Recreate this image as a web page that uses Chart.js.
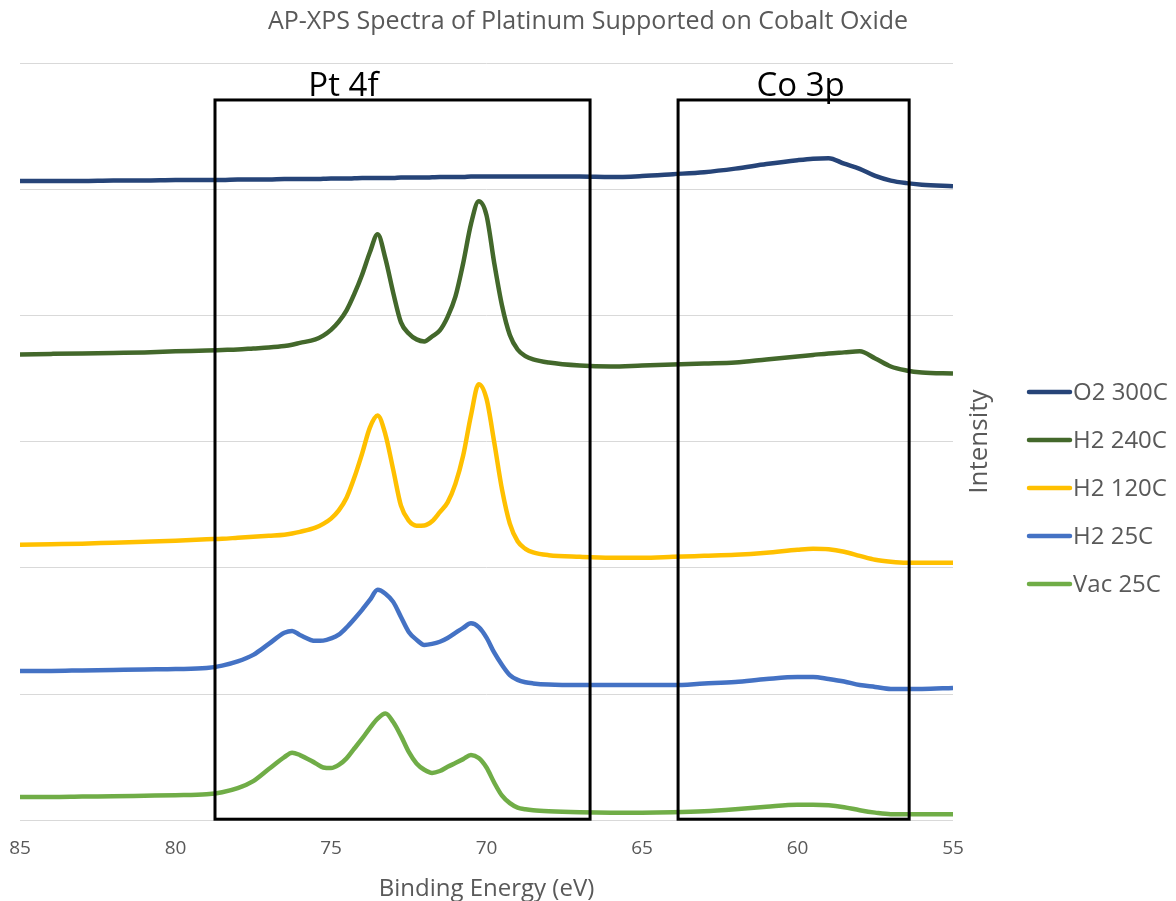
<!DOCTYPE html>
<html>
<head>
<meta charset="utf-8">
<title>AP-XPS Spectra</title>
<script src="https://cdn.jsdelivr.net/npm/chart.js@4.4.1/dist/chart.umd.min.js"></script>
<style>
    html, body { margin: 0; padding: 0; background: #fff; }
    #wrap { width: 1176px; height: 901px; }
</style>
</head>
<body>
<div id="wrap"><canvas id="xpsChart" width="1176" height="901"></canvas></div>
<script>
// binding energy (eV), high to low
const energies = [85, 84, 83, 82, 81, 80, 79, 78.5, 78, 77.5, 77, 76.5, 76.25, 76,
    75.5, 75.25, 75, 74.75, 74.5, 74.25, 74, 73.75, 73.5, 73.25, 73, 72.75, 72.5, 72.25, 72,
    71.75, 71.5, 71.25, 71, 70.75, 70.5, 70.25, 70, 69.75, 69.5, 69.25, 69, 68.75, 68.5, 68,
    67, 66, 65, 64, 63, 62, 61, 60, 59.5, 59, 58.5, 58, 57.5, 57, 56.5, 56, 55];

// intensities (each spectrum stacked with its own offset)
const o2_300 = [5064, 5064, 5064, 5068, 5068, 5072, 5072, 5072, 5076, 5076, 5076, 5080, 5080, 5080,
    5080, 5082, 5084, 5084, 5084, 5086, 5088, 5088, 5088, 5088, 5088, 5092, 5092, 5092, 5092,
    5094, 5096, 5096, 5096, 5096, 5100, 5100, 5100, 5100, 5100, 5100, 5100, 5100, 5100, 5100,
    5100, 5096, 5104, 5119, 5135, 5163, 5199, 5230, 5242, 5246, 5202, 5161, 5105, 5068, 5048, 5036, 5024];
const h2_240 = [3691, 3695, 3699, 3703, 3707, 3715, 3722, 3726, 3730, 3738, 3746, 3758, 3768, 3782,
    3810, 3840, 3885, 3950, 4040, 4170, 4322, 4500, 4643, 4450, 4180, 3945, 3857, 3810, 3794,
    3833, 3881, 3988, 4148, 4413, 4723, 4905, 4794, 4413, 4076, 3845, 3730, 3678, 3652, 3627,
    3603, 3595, 3603, 3611, 3619, 3627, 3651, 3675, 3687, 3699, 3707, 3715, 3659, 3595, 3564, 3548, 3540];
const h2_120 = [2183, 2187, 2191, 2199, 2206, 2214, 2226, 2230, 2238, 2246, 2254, 2262, 2272, 2285,
    2318, 2348, 2390, 2455, 2555, 2715, 2905, 3111, 3206, 3056, 2778, 2492, 2373, 2334, 2336,
    2369, 2441, 2519, 2665, 2889, 3207, 3455, 3340, 2992, 2619, 2350, 2210, 2150, 2122, 2100,
    2087, 2080, 2080, 2087, 2095, 2103, 2119, 2143, 2151, 2147, 2127, 2095, 2064, 2048, 2040, 2040, 2040];
const h2_25 = [1183, 1183, 1187, 1191, 1195, 1198, 1206, 1225, 1258, 1310, 1397, 1485, 1500, 1468,
    1421, 1423, 1440, 1470, 1527, 1595, 1667, 1745, 1826, 1795, 1730, 1610, 1492, 1430, 1389,
    1397, 1414, 1444, 1484, 1524, 1560, 1530, 1447, 1327, 1230, 1150, 1112, 1093, 1084, 1075,
    1071, 1071, 1071, 1071, 1083, 1095, 1119, 1135, 1135, 1119, 1099, 1071, 1056, 1040, 1040, 1040, 1048];
const vac_25 = [183, 183, 187, 190, 194, 198, 206, 222, 254, 310, 405, 500, 535, 516,
    452, 418, 413, 438, 490, 568, 646, 730, 805, 845, 778, 668, 541, 450, 400,
    375, 390, 423, 453, 484, 516, 492, 417, 297, 194, 135, 100, 87, 79, 71,
    63, 60, 60, 63, 71, 87, 107, 123, 123, 119, 103, 79, 60, 48, 48, 48, 48];

const seriesNames = ['O2 300C', 'H2 240C', 'H2 120C', 'H2 25C', 'Vac 25C'];
const seriesData = [o2_300, h2_240, h2_120, h2_25, vac_25];
const seriesColors = ['#264478', '#43682B', '#FFC000', '#4472C4', '#70AD47'];

// region boxes: [high eV, low eV, top intensity]
const regionNames = ['Pt 4f', 'Co 3p'];
const regionBounds = [[78.73, 66.67, 5707], [63.84, 56.41, 5707]];
const regionLabelAt = [[74.6, 5810], [59.9, 5810]];

const textGray = '#595959';
const fontFamily = '"Open Sans", "Noto Sans", sans-serif';

function makeDatasets() {
    const sets = [];
    for (let i = 0; i < seriesNames.length; i++) {
        sets.push({
            label: seriesNames[i],
            data: energies.map((e, j) => ({ x: e, y: seriesData[i][j] })),
            borderColor: seriesColors[i],
            backgroundColor: seriesColors[i],
            borderWidth: 4.5,
            pointRadius: 0,
            cubicInterpolationMode: 'monotone',
            fill: false
        });
    }
    return sets;
}

// boxes, their labels, title, side legend and "Intensity"
const decorations = {
    id: 'decorations',
    afterDatasetsDraw(chart) {
        const ctx = chart.ctx;
        const xs = chart.scales.x;
        const ys = chart.scales.y;
        ctx.save();
        ctx.strokeStyle = '#000';
        ctx.lineWidth = 3;
        for (let i = 0; i < regionBounds.length; i++) {
            const b = regionBounds[i];
            const left = xs.getPixelForValue(b[0]);
            const right = xs.getPixelForValue(b[1]);
            const top = ys.getPixelForValue(b[2]);
            const bottom = ys.getPixelForValue(0) - 1;
            ctx.strokeRect(left, top, right - left, bottom - top);

            ctx.fillStyle = '#000';
            ctx.font = '33px ' + fontFamily;
            ctx.textAlign = 'center';
            ctx.textBaseline = 'middle';
            ctx.fillText(regionNames[i], xs.getPixelForValue(regionLabelAt[i][0]), ys.getPixelForValue(regionLabelAt[i][1]));
        }
        ctx.restore();
    },
    afterDraw(chart) {
        const ctx = chart.ctx;
        const area = chart.chartArea;
        ctx.save();
        ctx.fillStyle = textGray;
        ctx.textAlign = 'center';
        ctx.textBaseline = 'middle';
        ctx.font = '25px ' + fontFamily;
        ctx.fillText('AP-XPS Spectra of Platinum Supported on Cobalt Oxide', chart.width / 2, 22);

        // rotated axis name next to the legend
        ctx.save();
        ctx.translate(area.right + 27, (area.top + area.bottom) / 2);
        ctx.rotate(-Math.PI / 2);
        ctx.font = '26px ' + fontFamily;
        ctx.fillText('Intensity', 0, 0);
        ctx.restore();

        ctx.textAlign = 'left';
        ctx.font = '24px ' + fontFamily;
        for (let i = 0; i < seriesNames.length; i++) {
            const y = 392 + i * 48;
            ctx.strokeStyle = seriesColors[i];
            ctx.lineWidth = 4.5;
            ctx.lineCap = 'round';
            ctx.beginPath();
            ctx.moveTo(area.right + 76, y);
            ctx.lineTo(area.right + 117, y);
            ctx.stroke();
            ctx.fillText(seriesNames[i], area.right + 120, y + 1);
        }
        ctx.restore();
    }
};

const ctx = document.getElementById('xpsChart').getContext('2d');
new Chart(ctx, {
    type: 'line',
    data: { datasets: makeDatasets() },
    options: {
        responsive: false,
        animation: false,
        layout: { padding: { top: 63, left: 20, right: 223, bottom: 0 } },
        plugins: {
            legend: { display: false },
            title: { display: false },
            tooltip: { enabled: false }
        },
        scales: {
            x: {
                type: 'linear',
                reverse: true,
                min: 55,
                max: 85,
                ticks: { stepSize: 5, padding: 17, color: textGray, font: { family: fontFamily, size: 19 } },
                grid: { display: false, drawTicks: false },
                border: { display: false },
                title: {
                    display: true,
                    text: 'Binding Energy (eV)',
                    color: textGray,
                    font: { family: fontFamily, size: 24, lineHeight: 1.0 },
                    padding: { top: 0, bottom: 0 }
                },
                afterFit(scale) {
                    // keep the edge labels from pushing the plot inward
                    scale.paddingLeft = 11;
                    scale.paddingRight = 11;
                }
            },
            y: {
                min: 0,
                max: 6000,
                ticks: { display: false, stepSize: 1000 },
                grid: { color: '#D9D9D9', lineWidth: 1, drawTicks: false },
                border: { display: false }
            }
        }
    },
    plugins: [decorations]
});
</script>
</body>
</html>
